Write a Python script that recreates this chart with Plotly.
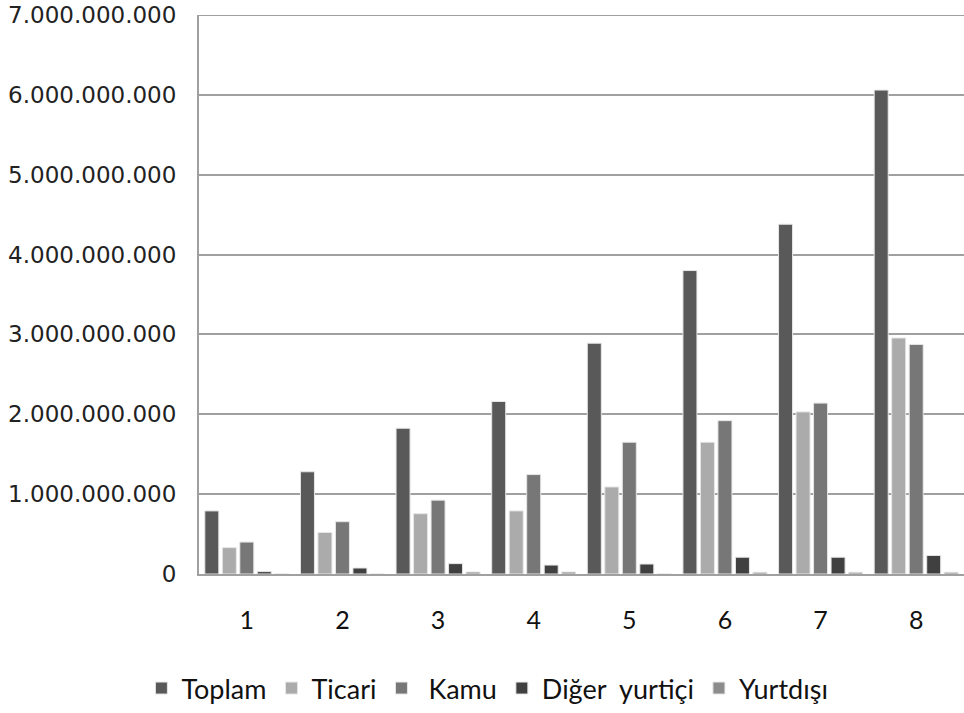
import plotly.graph_objects as go

categories = ["1", "2", "3", "4", "5", "6", "7", "8"]
series_names = ["Toplam", "Ticari", "\u00a0Kamu", "Diğer\u00a0 yurtiçi", "Yurtdışı"]
toplam = [790e6, 1280e6, 1825e6, 2160e6, 2890e6, 3800e6, 4380e6, 6060e6]
ticari = [330e6, 520e6, 755e6, 790e6, 1090e6, 1650e6, 2030e6, 2955e6]
kamu = [400e6, 655e6, 925e6, 1245e6, 1650e6, 1920e6, 2140e6, 2875e6]
diger = [30e6, 75e6, 130e6, 112e6, 125e6, 210e6, 210e6, 232e6]
yurtdisi = [0, 0, 25e6, 25e6, 0, 22e6, 22e6, 22e6]
tick_vals = [0, 1e9, 2e9, 3e9, 4e9, 5e9, 6e9, 7e9]
tick_text = ["0", "1.000.000.000", "2.000.000.000", "3.000.000.000",
             "4.000.000.000", "5.000.000.000", "6.000.000.000", "7.000.000.000"]

colors = ["#595959", "#ababab", "#777777", "#404040", "#8c8c8c"]
values = [toplam, ticari, kamu, diger, yurtdisi]

fig = go.Figure()
for name, vals, col in zip(series_names, values, colors):
    fig.add_trace(go.Bar(
        x=categories, y=vals, name=name,
        marker=dict(color=col, line=dict(color="#e6e6e6", width=1)),
    ))

fig.update_layout(
    width=964, height=713,
    margin=dict(l=199, r=0, t=15, b=130),
    paper_bgcolor="white", plot_bgcolor="white",
    barmode="group", bargap=0.085, bargroupgap=0.2,
    showlegend=True,
    legend=dict(orientation="h", x=0.377, xanchor="center", y=-0.205, yanchor="middle",
                font=dict(family="Lato, Carlito, sans-serif", size=27, color="#111"),
                traceorder="normal"),
    xaxis=dict(type="category", showgrid=False, showline=True, linecolor="#a0a0a0", linewidth=2,
               ticks="", ticklabelstandoff=23, automargin=False,
               tickfont=dict(family="Lato, Carlito, sans-serif", size=25, color="#111")),
    yaxis=dict(range=[0, 7e9], tickvals=tick_vals, ticktext=tick_text,
               showgrid=True, gridcolor="#a0a0a0", gridwidth=2,
               showline=True, linecolor="#a0a0a0", linewidth=2, zeroline=False,
               ticks="", ticklabelstandoff=16, automargin=False,
               ticklabeloverflow="allow",
               tickfont=dict(family="DejaVu Sans, sans-serif", size=23, color="#222")),
    shapes=[dict(type="line", xref="paper", yref="y", x0=0, x1=1, y0=7e9, y1=7e9,
                 line=dict(color="#a0a0a0", width=2), layer="below")],
)

fig.write_html("out.html", config={"displayModeBar": False},
               post_script="document.body.style.margin='0';")
